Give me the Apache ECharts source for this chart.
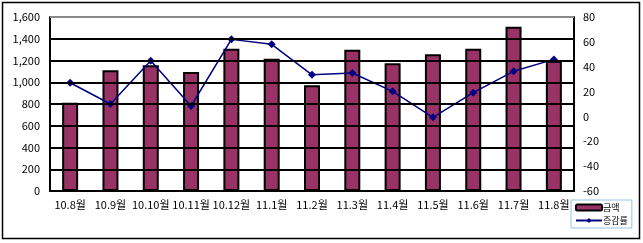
<!DOCTYPE html>
<html><head><meta charset="utf-8">
<script src="https://cdn.jsdelivr.net/npm/echarts@6/dist/echarts.min.js"></script>
<style>html,body{margin:0;padding:0;background:#fff}#c{width:643px;height:243px}</style>
</head><body><div id="c"></div>
<script>
var categories = ['10.8월','10.9월','10.10월','10.11월','10.12월','11.1월','11.2월','11.3월','11.4월','11.5월','11.6월','11.7월','11.8월'];
var amount = [812, 1110, 1156, 1094, 1309, 1217, 972, 1300, 1174, 1257, 1309, 1511, 1195];
var changeRate = [27.1, 10.0, 44.8, 8.4, 62.0, 58.0, 33.5, 34.9, 20.2, -0.7, 19.1, 36.3, 45.9];
var gridValues = [200, 400, 600, 800, 1000, 1200, 1400];
var topValue = 1600;
var seriesNames = ['금액', '증감률'];

var font = "'Noto Sans CJK KR', 'DejaVu Sans', sans-serif";
var chart = echarts.init(document.getElementById('c'), null, {renderer: 'canvas'});
function fmt(v){ return String(v).replace(/\B(?=(\d{3})+(?!\d))/g, ','); }
var gridMarks = gridValues.map(function(v){ return {yAxis: v}; });
gridMarks.push({yAxis: topValue, lineStyle: {color: '#8a8a8a', width: 2, type: 'solid'}});
chart.setOption({
  animation: false,
  backgroundColor: '#fff',
  graphic: [{
    type: 'rect', shape: {x: 2.5, y: 2.5, width: 637, height: 236},
    style: {fill: 'none', stroke: '#000', lineWidth: 1.5}, z: 100, silent: true
  }],
  grid: {left: 50, right: 69, top: 17, bottom: 52},
  legend: {
    orient: 'vertical', left: 571, top: 200,
    data: seriesNames,
    itemWidth: 26, itemHeight: 6, itemGap: 4,
    padding: [3, 4, 3, 4],
    borderColor: '#9cc3e5', borderWidth: 1,
    textStyle: {fontFamily: font, fontSize: 9, color: '#000', padding: [0,0,0,-4]}
  },
  xAxis: {
    type: 'category', data: categories, boundaryGap: true,
    axisLine: {lineStyle: {color: '#000', width: 2}},
    axisTick: {inside: true, length: 6, lineStyle: {color: '#000', width: 2}},
    axisLabel: {fontFamily: font, fontSize: 11, color: '#000', margin: 8, interval: 0},
    splitLine: {show: false}
  },
  yAxis: [{
    type: 'value', min: 0, max: 1600, interval: 200,
    axisLine: {show: true, lineStyle: {color: '#000', width: 2}},
    axisTick: {show: false},
    axisLabel: {fontFamily: font, fontSize: 11, color: '#000', margin: 10, formatter: fmt},
    splitLine: {show: false}
  }, {
    type: 'value', min: -60, max: 80, interval: 20, position: 'right',
    axisLine: {show: true, lineStyle: {color: '#000', width: 2}},
    axisTick: {show: false},
    axisLabel: {fontFamily: font, fontSize: 11, color: '#000', margin: 9},
    splitLine: {show: false}
  }],
  series: [{
    name: 'grid', type: 'line', data: [], z: 1, silent: true,
    markLine: {
      silent: true, symbol: 'none', label: {show: false}, animation: false,
      lineStyle: {color: '#000', width: 2, type: 'solid'},
      data: gridMarks
    }
  }, {
    name: seriesNames[0], type: 'bar', data: amount, barWidth: 16, z: 2,
    itemStyle: {color: '#993366', borderColor: '#000', borderWidth: 2}
  }, {
    name: seriesNames[1], type: 'line', yAxisIndex: 1, data: changeRate, z: 3,
    symbol: 'diamond', symbolSize: 8,
    lineStyle: {color: '#000080', width: 1.5},
    itemStyle: {color: '#000080'}
  }]
});
</script></body></html>
